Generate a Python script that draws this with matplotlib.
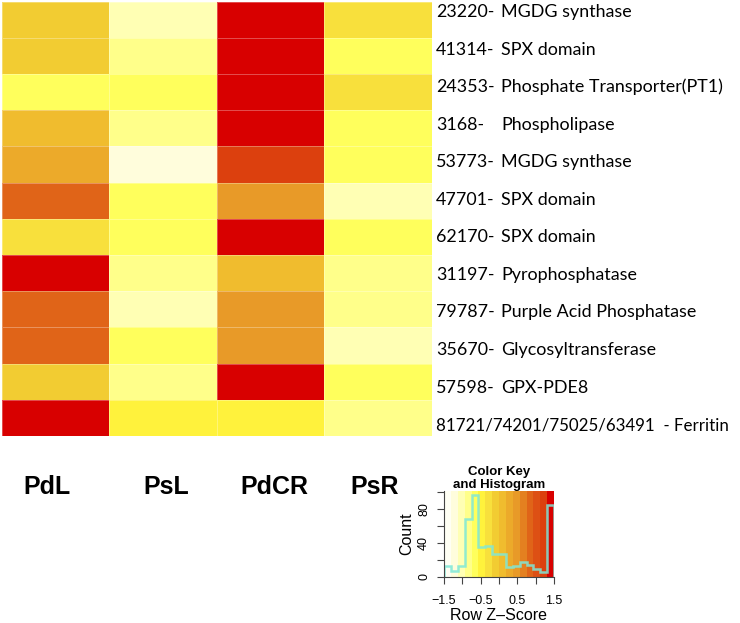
import numpy as np
import matplotlib
matplotlib.use("Agg")
import matplotlib.pyplot as plt
from matplotlib.colors import ListedColormap, BoundaryNorm

# samples (columns) and genes (rows)
samples = ["PdL", "PsL", "PdCR", "PsR"]
gene_ids = ["23220-", "41314-", "24353-", "3168-", "53773-", "47701-",
            "62170-", "31197-", "79787-", "35670-", "57598-",
            "81721/74201/75025/63491  - Ferritin"]
gene_names = ["MGDG synthase", "SPX domain", "Phosphate Transporter(PT1)",
              "Phospholipase", "MGDG synthase", "SPX domain", "SPX domain",
              "Pyrophosphatase", "Purple Acid Phosphatase",
              "Glycosyltransferase", "GPX-PDE8", ""]

# row z-scores
pdl = [-0.10, -0.10, -0.65, 0.10, 0.25, 0.85, -0.30, 1.45, 0.85, 0.85, -0.10, 1.45]
psl = [-1.05, -0.85, -0.65, -0.85, -1.25, -0.65, -0.65, -0.85, -1.05, -0.65, -0.85, -0.50]
pdcr = [1.45, 1.45, 1.45, 1.45, 1.20, 0.45, 1.45, 0.05, 0.45, 0.45, 1.45, -0.50]
psr = [-0.30, -0.65, -0.30, -0.65, -0.65, -1.05, -0.65, -0.85, -0.85, -1.05, -0.65, -0.85]

# colour key breaks, colours and histogram counts
key_breaks = [-1.5, -1.3125, -1.125, -0.9375, -0.75, -0.5625, -0.375, -0.1875, 0.0,
              0.1875, 0.375, 0.5625, 0.75, 0.9375, 1.125, 1.3125, 1.5]
key_colors = ["#FFFFF4", "#FFFDDC", "#FFFFB4", "#FFFF8A", "#FFFF5C", "#FFF23C",
              "#F8E03C", "#F2CC32", "#F0BC2E", "#ECAA2A", "#E89A28", "#E48020",
              "#E06418", "#DD5014", "#DC400E", "#D80000"]
hist_counts = [13, 7, 13, 68, 96, 35, 36, 27, 27, 12, 13, 18, 14, 9, 6, 85]

cmap = ListedColormap(key_colors)
norm = BoundaryNorm(key_breaks, cmap.N)

fig = plt.figure(figsize=(7.4, 6.23), dpi=100)

# heatmap
ax = fig.add_axes([2 / 740, 1 - 436 / 623, 430 / 740, 434.5 / 623])
z = np.column_stack([pdl, psl, pdcr, psr])
ax.pcolormesh(np.arange(len(samples) + 1), np.arange(len(gene_ids) + 1), z,
              cmap=cmap, norm=norm, edgecolors=(1, 1, 1, 0.3), linewidth=0.5)
ax.set_xlim(0, len(samples))
ax.set_ylim(len(gene_ids), 0)
ax.axis("off")

# row labels (spaced a bit wider than the rows, as in the figure)
n = len(gene_ids)
for i in range(n):
    y = 0.29 + i * 11.41 / (n - 1)
    # the long ferritin label has to fit inside the figure
    fs = 12.9 if gene_names[i] else 12.2
    ax.text(4 + 4 / 107.5, y, gene_ids[i], ha="left", va="center",
            fontsize=fs, family="Lato", clip_on=False)
    if gene_names[i]:
        ax.text(4 + 69 / 107.5, y, gene_names[i], ha="left", va="center",
                fontsize=fs, family="Lato", clip_on=False)

# column labels
for x, s in zip([0.42, 1.53, 2.53, 3.47], samples):
    ax.text(x, 13.41, s, ha="center", va="center", fontsize=18,
            fontweight="bold", family="Liberation Sans", clip_on=False)

# colour key with histogram
kax = fig.add_axes([444 / 740, 1 - 577 / 623, 110 / 740, 86 / 623])
kax.pcolormesh(key_breaks, [0, 101], np.array([key_breaks[:-1]]) + 0.01,
               cmap=cmap, norm=norm)
kax.stairs(hist_counts, key_breaks, color="#7FE8D8", linewidth=1.8, alpha=0.85)
kax.set_xlim(-1.5, 1.5)
kax.set_ylim(0, 101)
kax.set_xticks([-1.5, -1, -0.5, 0, 0.5, 1, 1.5])
kax.set_xticklabels(["\u22121.5", "", "\u22120.5", "", "0.5", "", "1.5"])
kax.set_yticks([0, 20, 40, 60, 80, 100])
kax.set_yticklabels(["0", "", "40", "", "80", ""], rotation=90, va="center")
for lab in kax.get_xticklabels() + kax.get_yticklabels():
    lab.set_family("Liberation Sans")
    lab.set_fontsize(9)
kax.tick_params(length=5, width=0.8, color="#444444")
kax.tick_params(axis="x", pad=8)
kax.tick_params(axis="y", pad=5)
for side in ["top", "right"]:
    kax.spines[side].set_visible(False)
for side in ["left", "bottom"]:
    kax.spines[side].set_color("#444444")
kax.set_xlabel("Row Z\u2013Score", fontsize=11.5, family="Liberation Sans")
kax.xaxis.set_label_coords(0.5, -0.36)
kax.set_ylabel("Count", fontsize=11.5, family="Liberation Sans")
kax.yaxis.set_label_coords(-0.27, 0.5)
kax.set_title("Color Key\nand Histogram", fontsize=9.5, fontweight="bold",
              family="Liberation Sans", pad=0, linespacing=1.15)

fig.savefig("out.png", dpi=100)
